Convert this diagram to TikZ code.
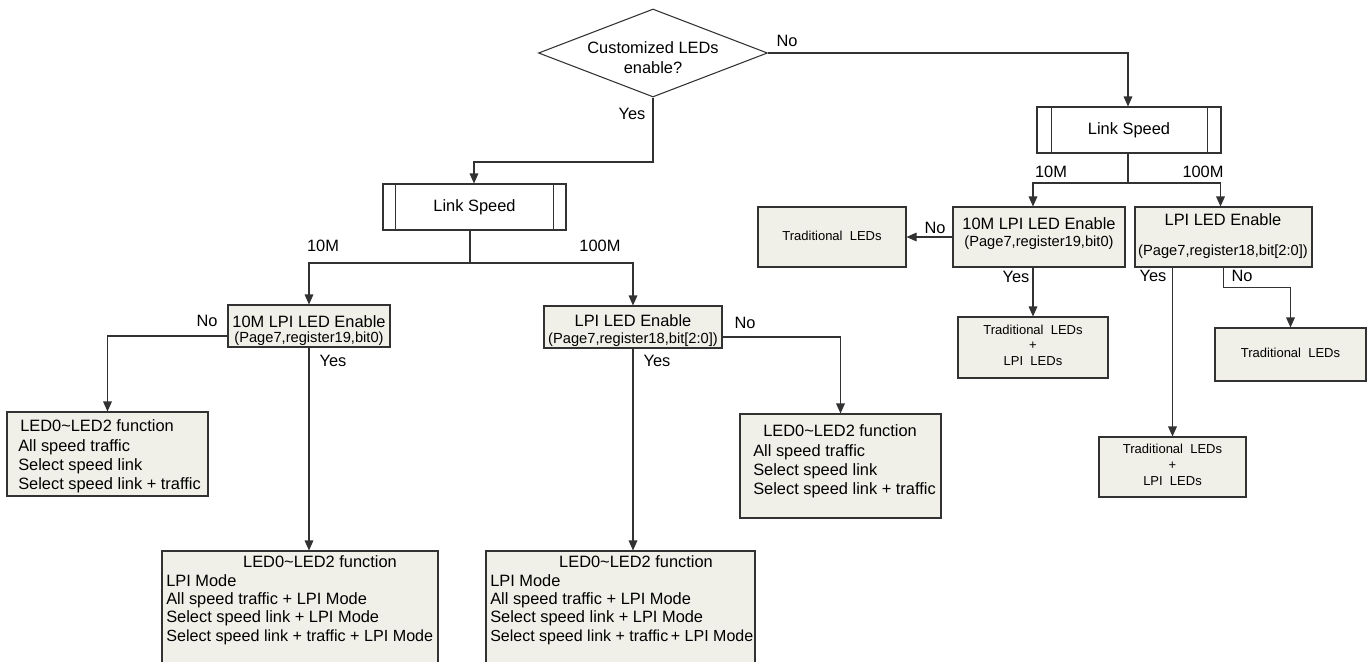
\documentclass[tikz,border=0pt]{standalone}
\usepackage{fontspec}
\setmainfont{Liberation Sans}
\usetikzlibrary{arrows.meta,shapes.geometric,calc}
\definecolor{boxfill}{RGB}{240,240,232}
\definecolor{ln}{RGB}{50,50,50}
% name, x1, y1, x2, y2 (pixels), style
\newcommand\mybox[6]{\node[#6, minimum width={(#4-#2)*0.75pt}, minimum height={(#5-#3)*0.75pt}] (#1) at ({(#2+#4)/2},{(#3+#5)/2}) {};}
\begin{document}
\begin{tikzpicture}[x=0.75pt,y=-0.75pt,
  box/.style={draw=ln, fill=boxfill, line width=0.8pt, inner sep=0pt, rectangle},
  wbox/.style={draw=ln, fill=white, line width=0.8pt, inner sep=0pt, rectangle},
  conn/.style={draw=ln, line width=0.8pt},
  arr/.style={conn, -{Triangle[length=7.5pt,width=6.5pt]}},
  lbl/.style={font=\fontsize{12.3}{14}\selectfont, inner sep=0pt, text height=8.8pt, text depth=2.5pt},
  sub/.style={font=\fontsize{11}{13}\selectfont, inner sep=0pt, text height=8pt, text depth=2.4pt},
  sml/.style={font=\fontsize{9.75}{12}\selectfont, inner sep=0pt, text height=7pt, text depth=2pt},
]
\useasboundingbox (0,0) rectangle (1367,661);
\clip (0,0) rectangle (1367,661);

% decision
\node[diamond, draw=ln, fill=white, line width=0.8pt, inner sep=0pt,
      minimum width=229*0.75pt, minimum height=88*0.75pt] (dia) at (653,53) {};
\node[font=\fontsize{12.3}{15}\selectfont, align=center, inner sep=0pt] (diat) at (653,58) {Customized LEDs\\enable?};

% link speed boxes
\mybox{lsL}{383}{184}{566}{230}{wbox}
\mybox{lsR}{1037}{107}{1221}{153}{wbox}
\draw[conn] ($(lsL.north west)+(13,0)$) -- ($(lsL.south west)+(13,0)$);
\draw[conn] ($(lsL.north east)+(-13,0)$) -- ($(lsL.south east)+(-13,0)$);
\draw[conn] ($(lsR.north west)+(15,0)$) -- ($(lsR.south west)+(15,0)$);
\draw[conn] ($(lsR.north east)+(-14,0)$) -- ($(lsR.south east)+(-14,0)$);
\node[lbl] (lsLt) at (lsL.center) {Link Speed};
\node[lbl] (lsRt) at (lsR.center) {Link Speed};

% enable boxes
\mybox{en10L}{228}{305}{390}{347}{box}
\mybox{enL}{544}{306}{722}{348}{box}
\mybox{en10R}{953}{207}{1125}{267}{box}
\mybox{enR}{1135}{207}{1312}{267}{box}
\node[lbl] (t1) at (309,323) {10M LPI LED Enable};
\node[sub] (t2) at (309,339) {(Page7,register19,bit0)};
\node[lbl] (t3) at (633,322) {LPI LED Enable};
\node[sub] (t4) at (633,340) {(Page7,register18,bit[2:0])};
\node[lbl] (t5) at (1039,225) {10M LPI LED Enable};
\node[sub] (t6) at (1039,243) {(Page7,register19,bit0)};
\node[lbl] (t7) at (1223,221) {LPI LED Enable};
\node[sub] (t8) at (1223,252) {(Page7,register18,bit[2:0])};

% function boxes
\mybox{fnL}{7}{412}{208}{496}{box}
\mybox{fnM}{740}{414}{941}{518}{box}
\mybox{fnBL}{162}{551}{438}{700}{box}
\mybox{fnBM}{486}{551}{755}{700}{box}

\node[lbl, anchor=west] (a1) at (20,427) {LED0\textasciitilde LED2 function};
\node[lbl, anchor=west] (a2) at (18,447) {All speed traffic};
\node[lbl, anchor=west] (a3) at (18,466) {Select speed link};
\node[lbl, anchor=west] (a4) at (18,485) {Select speed link + traffic};

\node[lbl, anchor=west] (b1) at (763,432) {LED0\textasciitilde LED2 function};
\node[lbl, anchor=west] (b2) at (753,452) {All speed traffic};
\node[lbl, anchor=west] (b3) at (753,471) {Select speed link};
\node[lbl, anchor=west] (b4) at (753,490) {Select speed link + traffic};

\node[lbl] (c1) at (320,563) {LED0\textasciitilde LED2 function};
\node[lbl, anchor=west] (c2) at (166,582) {LPI Mode};
\node[lbl, anchor=west] (c3) at (166,600) {All speed traffic + LPI Mode};
\node[lbl, anchor=west] (c4) at (166,618) {Select speed link + LPI Mode};
\node[lbl, anchor=west, font=\fontsize{12.1}{14}\selectfont] (c5) at (166,637) {Select speed link + traffic + LPI Mode};

\node[lbl] (d1) at (636,563) {LED0\textasciitilde LED2 function};
\node[lbl, anchor=west] (d2) at (490,582) {LPI Mode};
\node[lbl, anchor=west] (d3) at (490,600) {All speed traffic + LPI Mode};
\node[lbl, anchor=west] (d4) at (490,618) {Select speed link + LPI Mode};
\node[lbl, anchor=west, font=\fontsize{12}{14}\selectfont] (d5) at (490,637) {Select speed link + traffic\,+ LPI Mode};

% traditional boxes
\mybox{tradA}{758}{207}{906}{267}{box}
\mybox{tradB}{1215}{328}{1366}{381}{box}
\mybox{tlA}{958}{317}{1108}{378}{box}
\mybox{tlB}{1099}{437}{1246}{497}{box}
\node[sml] (e1) at (tradA.center) {Traditional\ \ LEDs};
\node[sml] (e2) at (tradB.center) {Traditional\ \ LEDs};
\node[sml] (e3) at (1033,331) {Traditional\ \ LEDs};
\node[sml] (e4) at (1033,346) {+};
\node[sml] (e5) at (1033,362) {LPI\ \ LEDs};
\node[sml] (e6) at (1172.5,450) {Traditional\ \ LEDs};
\node[sml] (e7) at (1172.5,466) {+};
\node[sml] (e8) at (1172.5,482) {LPI\ \ LEDs};

% connectors
\coordinate (jY) at (474,162);
\coordinate (busL) at (470,263);
\coordinate (busR) at (1128,183);
\draw[arr] (dia.east) -| (busR |- lsR.north);
\draw[arr] (dia.south) |- (jY) -- (jY |- lsL.north);
\draw[conn] (lsL.south -| busL) -- (busL);
\draw[arr] (busL) -| (en10L.north);
\draw[arr] (busL) -| (enL.north);
\draw[arr] ($(en10L.west)+(0,10)$) -| (fnL.north);
\draw[arr] (en10L.south) -- (en10L.south |- fnBL.north);
\draw[arr] (enL.south) -- (enL.south |- fnBM.north);
\draw[arr] ($(enL.east)+(0,10)$) -| (fnM.north);

\draw[conn] (busR |- lsR.south) -- (busR);
\draw[arr] (busR) -| (tlA.north |- en10R.north);
\draw[arr] (busR) -| ($(enR.north)+(-3,0)$);
\draw[arr] (en10R.west) -- (tradA.east);
\draw[arr] (tlA.north |- en10R.south) -- (tlA.north);
\draw[arr] (tlB.north |- enR.south) -- (tlB.north);
\draw[arr] (enR.south) -- ++(0,20) -| (tradB.north);

% branch labels
\node[lbl] (n1) at (787,42) {No};
\node[lbl] (y1) at (632,115) {Yes};
\node[lbl] (s1) at (323,247) {10M};
\node[lbl] (s2) at (600,247) {100M};
\node[lbl] (n2) at (207,322) {No};
\node[lbl] (y2) at (333,362) {Yes};
\node[lbl] (y3) at (657,362) {Yes};
\node[lbl] (n3) at (745,324) {No};
\node[lbl] (s3) at (1051,173) {10M};
\node[lbl] (s4) at (1203,173) {100M};
\node[lbl] (n4) at (935,229) {No};
\node[lbl] (y4) at (1016,278) {Yes};
\node[lbl] (y5) at (1153,277) {Yes};
\node[lbl] (n5) at (1242,277) {No};
\end{tikzpicture}
\end{document}
